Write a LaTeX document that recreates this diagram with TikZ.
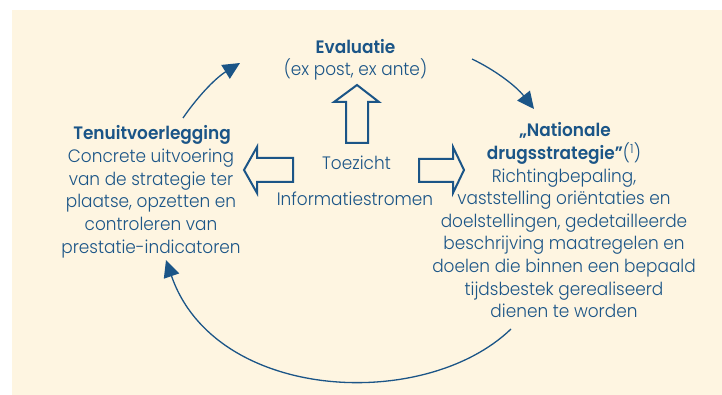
\documentclass[tikz,border=0pt]{standalone}
\usepackage{fontspec}
\setmainfont{Poppins}[UprightFont=* Light, BoldFont=* SemiBold, FakeStretch=0.94]
\usetikzlibrary{arrows.meta}
\definecolor{cream}{HTML}{FEF5E1}
\definecolor{navy}{HTML}{1B5587}
\begin{document}
\begin{tikzpicture}[x=1pt,y=-1pt,
  txt/.style={anchor=base,inner sep=0pt,text=navy,font=\fontsize{18}{21}\selectfont},
  ttl/.style={txt,font=\fontsize{18}{21}\selectfont\bfseries},
  blockarrow/.style={draw=navy,line width=2pt,fill=cream,line join=miter},
  flow/.style={draw=navy,line width=1.3pt,-{Triangle[length=17pt,width=16pt]}}]
\useasboundingbox (0,0) rectangle (722,395);
\fill[cream] (12,10) rectangle (722,395);
% texts: Evaluatie
\node[ttl] (evtitle) at (355.5,54) {Evaluatie};
\node[txt] (evsub) at (355.5,76) {(ex post, ex ante)};
% left block
\node[ttl] (l1) at (152,140) {Tenuitvoerlegging};
\foreach \t [count=\i from 2] in {{Concrete uitvoering},{van de strategie ter},{plaatse, opzetten en},{controleren van},{prestatie-indicatoren}}
  \node[txt] (l\i) at (151,140+22.6*\i-22.6) {\t};
% centre
\node[txt] (toez) at (356.5,170) {Toezicht};
\node[txt] (info) at (355,205.5) {Informatiestromen};
% right block
\node[ttl] (r1) at (565,137) {„Nationale};
\node[txt] (r2) at (564,160) {{\bfseries drugsstrategie”}(\textsuperscript{1})};
\foreach \t [count=\i from 3] in {{Richtingbepaling,},{vaststelling oriëntaties en},{doelstellingen, gedetailleerde},{beschrijving maatregelen en},{doelen die binnen een bepaald},{tijdsbestek gerealiseerd},{dienen te worden}}
  \node[txt] (r\i) at (564,137+22.6*\i-22.6) {\t};
% block arrows
\draw[blockarrow] (357,85) -- (379,102) -- (368,102) -- (368,143) -- (346,143) -- (346,102) -- (334,102) -- cycle;
\draw[blockarrow] (244,170) -- (257,147) -- (257,158) -- (293,158) -- (293,182) -- (257,182) -- (257,193) -- cycle;
\draw[blockarrow] (464,170) -- (453,147) -- (453,159) -- (419,159) -- (419,182) -- (453,182) -- (453,193) -- cycle;
% curved connectors
\coordinate (a1) at (183,118); \coordinate (a2) at (240,63);
\coordinate (b1) at (472,59); \coordinate (b2) at (534,109);
\coordinate (c1) at (511,329); \coordinate (c2) at (166,260);
\draw[flow] (a1) .. controls (196,99) and (214,79) .. (a2);
\draw[flow] (b1) .. controls (495,70) and (516,86) .. (b2);
\draw[flow] (c1) .. controls (425,412) and (215,402) .. (c2);
\end{tikzpicture}
\end{document}
